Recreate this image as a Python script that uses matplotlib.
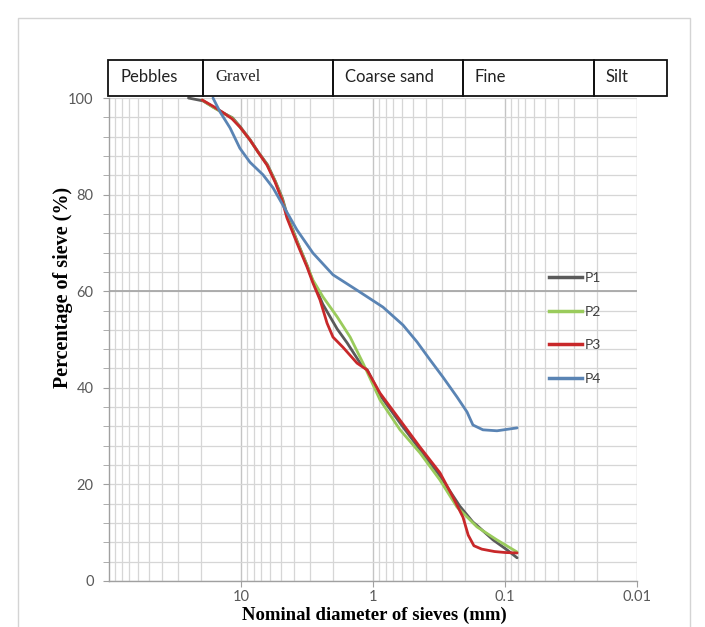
import matplotlib
matplotlib.use("Agg")
import matplotlib.pyplot as plt
from matplotlib.ticker import FixedLocator, NullFormatter, MultipleLocator, LogLocator
from matplotlib.patches import Rectangle
from matplotlib.lines import Line2D

# ---------------- data ----------------
p1_d = [25.0, 19.4, 16.2, 13.6, 11.6, 10.1, 8.5, 7.4, 6.3, 5.5, 4.85, 4.45, 3.75, 3.15, 2.85,
        2.4, 1.87, 1.57, 1.25, 1.1, 0.88, 0.62, 0.44, 0.31, 0.22, 0.175, 0.163, 0.123, 0.096, 0.081]
p1_y = [100, 99.4, 98.1, 96.9, 95.9, 94.0, 91.3, 88.8, 86.2, 82.8, 79.2, 75.6, 70.3, 65.3, 62.0,
        57.3, 52.2, 49.3, 45.1, 43.6, 38.4, 32.6, 27.2, 21.7, 15.5, 12.2, 11.5, 8.5, 6.4, 4.8]

p2_d = [19.7, 16.3, 13.7, 11.7, 10.2, 8.55, 7.43, 6.35, 5.52, 4.89, 4.49, 3.77, 3.16, 2.85,
        2.39, 1.87, 1.49, 1.19, 0.885, 0.624, 0.44, 0.311, 0.231, 0.208, 0.163, 0.115, 0.081]
p2_y = [99.6, 98.1, 96.9, 95.9, 94.0, 91.3, 88.8, 86.2, 82.8, 79.2, 75.6, 70.3, 65.3, 62.3,
        58.8, 54.7, 50.5, 45.1, 37.5, 31.3, 26.5, 20.9, 15.3, 14.1, 11.2, 8.5, 6.0]

p3_d = [19.7, 16.3, 13.7, 11.7, 10.2, 8.55, 7.43, 6.35, 5.52, 4.89, 4.49, 3.77, 3.16, 2.85,
        2.52, 2.23, 2.01, 1.69, 1.32, 1.11, 0.885, 0.624, 0.44, 0.311, 0.248, 0.208, 0.19,
        0.172, 0.15, 0.12, 0.1, 0.081]
p3_y = [99.6, 98.3, 97.0, 95.7, 94.0, 91.3, 88.8, 86.1, 82.6, 78.9, 75.2, 70.0, 65.0, 61.7,
        58.2, 53.4, 50.5, 48.4, 45.1, 43.7, 38.9, 33.3, 27.7, 22.4, 17.4, 13.2, 9.5,
        7.3, 6.6, 6.1, 5.9, 5.8]

p4_d = [16.3, 14.4, 12.1, 10.2, 8.55, 6.81, 5.72, 4.81, 3.77, 2.85, 2.01, 1.32, 0.84, 0.593,
        0.464, 0.370, 0.295, 0.231, 0.194, 0.175, 0.147, 0.115, 0.081]
p4_y = [100, 97.1, 93.8, 89.6, 86.7, 84.1, 81.4, 77.8, 72.7, 67.9, 63.4, 60.2, 56.7, 53.0,
        49.5, 45.8, 42.2, 38.1, 35.0, 32.3, 31.3, 31.1, 31.7]

series_names = ["P1", "P2", "P3", "P4"]
series_colors = ["#5a5a5a", "#9acb5c", "#c8282a", "#5a84b4"]

x_ticks = [10, 1, 0.1, 0.01]
x_tick_labels = ["10", "1", "0.1", "0.01"]
y_ticks = [0, 20, 40, 60, 80, 100]

header_labels = ["Pebbles", "Gravel", "Coarse sand", "Fine", "Silt"]
header_edges_px = [108, 203, 333, 463, 594, 667]

# ---------------- figure ----------------
W, H = 705, 627
fig = plt.figure(figsize=(W / 100, H / 100), dpi=100)

def fx(px):
    return px / W

def fy(py):
    return 1 - py / H

ax = fig.add_axes([fx(109), fy(581), (637 - 109) / W, (581 - 98) / H])
ax.set_xscale("log")
ax.set_xlim(100, 0.01)
ax.set_ylim(0, 100)

ax.xaxis.set_major_locator(FixedLocator(x_ticks))
ax.set_xticklabels(x_tick_labels)
ax.xaxis.set_minor_locator(LogLocator(base=10, subs=[2, 3, 4, 5, 6, 7, 8, 9], numticks=20))
ax.xaxis.set_minor_formatter(NullFormatter())
ax.yaxis.set_major_locator(FixedLocator(y_ticks))
ax.yaxis.set_minor_locator(MultipleLocator(4))

for lab in ax.get_xticklabels() + ax.get_yticklabels():
    lab.set_fontfamily(["Lato", "DejaVu Sans"])
    lab.set_fontsize(10.5)
    lab.set_color("#595959")

ax.tick_params(axis="x", which="major", direction="out", length=4, color="#a0a0a0", pad=2.5)
ax.tick_params(axis="x", which="minor", length=0)
ax.tick_params(axis="y", which="both", direction="out", length=4, color="#a0a0a0", pad=7)

ax.grid(True, which="minor", axis="x", color="#d6d6d6", lw=0.9)
ax.grid(True, which="major", axis="x", color="#c4c4c4", lw=1.0)
ax.grid(True, which="both", axis="y", color="#d6d6d6", lw=0.9)
ax.axhline(60, color="#a8a8a8", lw=1.3, zorder=1)
ax.set_axisbelow(True)

for s in ["top", "right"]:
    ax.spines[s].set_visible(False)
for s in ["left", "bottom"]:
    ax.spines[s].set_color("#a0a0a0")
    ax.spines[s].set_linewidth(1.0)

all_d = [p1_d, p2_d, p3_d, p4_d]
all_y = [p1_y, p2_y, p3_y, p4_y]
handles = []
for d, y, name, c in zip(all_d, all_y, series_names, series_colors):
    ax.plot(d, y, color=c, lw=2.0, solid_capstyle="round", solid_joinstyle="round", clip_on=False)
    handles.append(Line2D([], [], color=c, lw=2.5, label=name))

leg = fig.legend(handles=handles, loc="upper left", bbox_to_anchor=(fx(549), fy(272)),
                 bbox_transform=fig.transFigure, frameon=False, borderpad=0, borderaxespad=0,
                 handlelength=2.4, handletextpad=0.2, labelspacing=1.56,
                 prop=dict(family=["Lato", "DejaVu Sans"], size=10))
for t in leg.get_texts():
    t.set_color("#404040")

# header boxes
top_px, bot_px = 60, 96
for i, lab in enumerate(header_labels):
    x0, x1 = header_edges_px[i], header_edges_px[i + 1]
    fig.patches.append(Rectangle((fx(x0), fy(bot_px)), (x1 - x0) / W, (bot_px - top_px) / H,
                                 transform=fig.transFigure, fill=False, edgecolor="#111111",
                                 lw=1.3))
    fam = ["Liberation Serif", "DejaVu Serif"] if lab == "Gravel" else ["Lato", "DejaVu Sans"]
    fig.text(fx(x0 + 12), fy(77), lab, ha="left", va="center", fontsize=12,
             family=fam, color="#222222")

# outer chart border
fig.patches.append(Rectangle((fx(18), fy(640)), (690 - 18) / W, (640 - 18) / H,
                             transform=fig.transFigure, fill=False, edgecolor="#d4d4d4", lw=1.0))

# axis titles
fig.text(fx(63), fy(287), "Percentage of sieve (%)", rotation=90, ha="center", va="center",
         fontsize=14.5, fontweight="bold", family=["Liberation Serif", "DejaVu Serif"])
fig.text(fx(374), fy(615), "Nominal diameter of sieves (mm)", ha="center", va="center",
         fontsize=13.5, fontweight="bold", family=["Liberation Serif", "DejaVu Serif"])

fig.savefig("out.png", dpi=100)
